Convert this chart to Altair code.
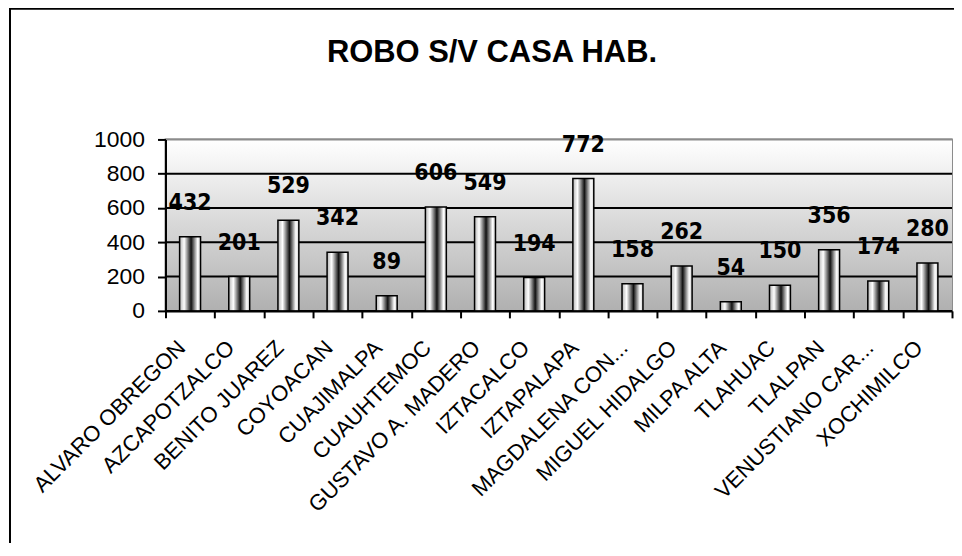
import altair as alt
import pandas as pd

categories = ["ALVARO OBREGON", "AZCAPOTZALCO", "BENITO JUAREZ", "COYOACAN",
              "CUAJIMALPA", "CUAUHTEMOC", "GUSTAVO A. MADERO", "IZTACALCO",
              "IZTAPALAPA", "MAGDALENA CON...", "MIGUEL HIDALGO", "MILPA ALTA",
              "TLAHUAC", "TLALPAN", "VENUSTIANO CAR...", "XOCHIMILCO"]
values = [432, 201, 529, 342, 89, 606, 549, 194, 772, 158, 262, 54, 150, 356, 174, 280]
y_ticks = [0, 200, 400, 600, 800, 1000]

df = pd.DataFrame({"delegacion": categories, "robos": values})
grid_df = pd.DataFrame({"v": y_ticks})
bg_df = pd.DataFrame({"a": [0]})

W, H = 789, 172
PAD_L, PAD_T = 158, 131

bar_grad = alt.LinearGradient(
    gradient="linear", x1=0, x2=1, y1=0, y2=0,
    stops=[alt.GradientStop(color="#b4b4b4", offset=0),
           alt.GradientStop(color="#ffffff", offset=0.22),
           alt.GradientStop(color="#111111", offset=0.55),
           alt.GradientStop(color="#ffffff", offset=0.86),
           alt.GradientStop(color="#cccccc", offset=1)])
bg_grad = alt.LinearGradient(
    gradient="linear", x1=0, x2=0, y1=0, y2=1,
    stops=[alt.GradientStop(color="#ffffff", offset=0),
           alt.GradientStop(color="#b0b0b0", offset=1)])

x_axis = alt.Axis(title=None, labelAngle=-45, labelAlign="right",
                  labelBaseline="top", labelFont="Liberation Sans",
                  labelFontSize=22, labelColor="black", labelPadding=19,
                  labelOffset=-16, tickBand="extent", tickSize=7,
                  tickColor="black", tickWidth=2, domainColor="black",
                  domainWidth=2, grid=False, labelOverlap=False,
                  labelLimit=0, zindex=1)
y_axis = alt.Axis(title=None, values=y_ticks, format="d",
                  labelFont="Liberation Sans",
                  labelFontSize=23, labelColor="black", labelPadding=13,
                  labelOverlap=False, labelBound=False, tickSize=8,
                  tickColor="black", tickWidth=2, domainColor="black",
                  domainWidth=2, grid=False, zindex=1)
x_scale = alt.Scale(paddingInner=0, paddingOuter=0)
y_scale = alt.Scale(domain=[0, 1000], nice=False)

x_enc = alt.X("delegacion:N", sort=categories, scale=x_scale, axis=x_axis)
y_enc = alt.Y("robos:Q", scale=y_scale, axis=y_axis)

background = alt.Chart(bg_df).mark_rect(fill=bg_grad).encode(
    x=alt.value(0), x2=alt.value(W), y=alt.value(0), y2=alt.value(H))

grid = alt.Chart(grid_df).mark_rule(strokeWidth=2).encode(
    y=alt.Y("v:Q", scale=y_scale, axis=y_axis),
    color=alt.condition(alt.datum.v == 1000, alt.value("#8c8c8c"), alt.value("black")))

bars = alt.Chart(df).mark_bar(width=21, fill=bar_grad, stroke="black",
                              strokeWidth=1.5).encode(x=x_enc, y=y_enc)

labels = alt.Chart(df).mark_text(dy=-27, baseline="alphabetic", align="center",
                                 font="DejaVu Sans Condensed, DejaVu Sans",
                                 fontWeight="bold", fontSize=23,
                                 color="black").encode(
    x=x_enc, y=y_enc, text="robos:Q")

frame = alt.Chart(bg_df).mark_rect(fill="transparent", stroke="black",
                                   strokeWidth=2).encode(
    x=alt.value(-156), y=alt.value(-131), x2=alt.value(1200), y2=alt.value(800))

chart = alt.layer(background, grid, bars, labels, frame).properties(
    width=W, height=H,
    autosize=alt.AutoSizeParams(type="none"),
    padding={"left": PAD_L, "top": PAD_T, "right": 2, "bottom": 232},
    title=alt.TitleParams("ROBO S/V CASA HAB.", font="Liberation Sans",
                          fontSize=31, fontWeight="bold", color="black",
                          anchor="middle", frame="group", dx=-67, dy=85,
                          offset=0, baseline="alphabetic"),
    background="white",
).configure_view(stroke="#8c8c8c", strokeWidth=2)

chart.save("out.html", embed_options={"renderer": "svg", "actions": False})
